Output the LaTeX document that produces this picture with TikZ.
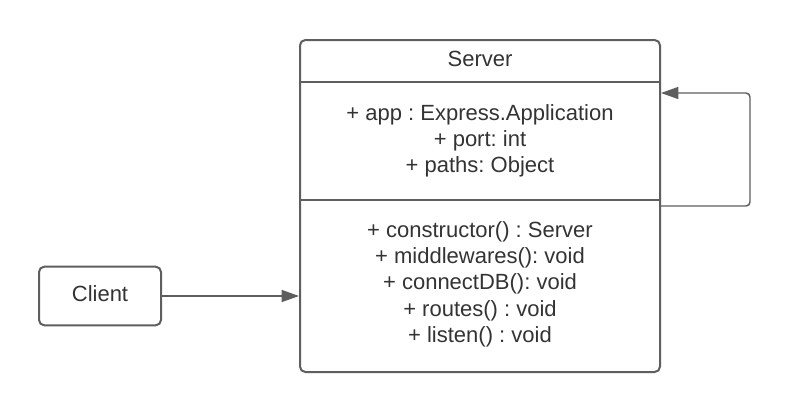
\documentclass[tikz,border=0pt]{standalone}
\usepackage{fontspec}
\setmainfont{Liberation Sans}
\usetikzlibrary{arrows.meta}
\definecolor{linegray}{HTML}{5E5E5E}
\definecolor{textgray}{HTML}{333333}
\frenchspacing
\tikzset{
  boxline/.style={draw=linegray, line width=1.5pt},
  classbox/.style={boxline, rounded corners=4pt, inner sep=0pt},
  assoc/.style={draw=linegray, line width=1.1pt, -{Triangle[length=13pt, width=9pt]}},
  member/.style={anchor=base},
}
\begin{document}
\begin{tikzpicture}[x=0.75pt, y=-0.75pt]
\tikzstyle{every node}+=[inner sep=0pt, text=textgray, font=\fontsize{16.5}{19.7}\selectfont]
\useasboundingbox (0,0) rectangle (790,411);

% class box
\node [classbox, minimum width=270pt, minimum height=249pt] (server) at (480,206) {};
\draw [boxline] (300,82) -- (660,82);
\draw [boxline] (300,200) -- (660,200);

\node [member] (title) at (480,66) {Server};

% attributes
\node [member] (app) at (480,120) {+ app : Express.Application};
\node [member] (port) at (480,146) {+ port: int};
\node [member] (paths) at (480,172) {+ paths: Object};

% methods
\node [member] (ctor) at (480,237) {+ constructor() : Server};
\node [member] (mw) at (480,263) {+ middlewares(): void};
\node [member] (db) at (480,289) {+ connectDB(): void};
\node [member] (routes) at (480,316) {+ routes() : void};
\node [member] (listen) at (480,342) {+ listen() : void};

% client
\node [classbox, minimum width=91.5pt, minimum height=44pt] (client) at (100,296) {};
\node [member] (clientname) at (100,301) {Client};

\draw [assoc] (client.east) -- (client.east -| server.west);
\draw [assoc, rounded corners=3pt] (server.east) -- (750,206) -- (750,93)
  -- ([yshift=84.75pt]server.east);
\end{tikzpicture}
\end{document}
